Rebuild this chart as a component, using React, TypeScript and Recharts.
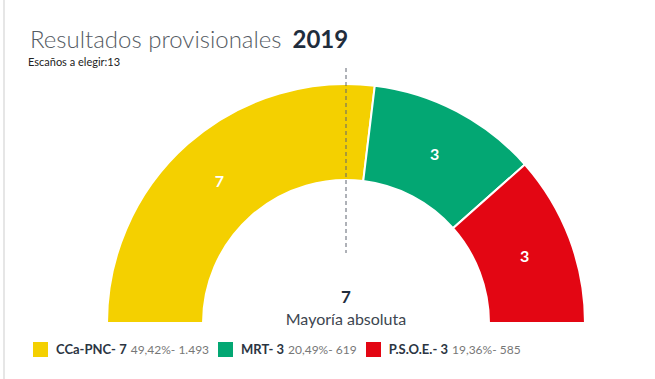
import React from "react";
import { PieChart, Pie, Cell, Legend } from "recharts";

const PARTIES = ["CCa-PNC", "MRT", "P.S.O.E."];
const SEATS = [7, 3, 3];
const PERCENTS = ["49,42%", "20,49%", "19,36%"];
const VOTES = ["1.493", "619", "585"];
const COLORS = ["#f4d000", "#03a773", "#e30613"];

const TOTAL_SEATS = 13;
const MAJORITY = 7;

const data = PARTIES.map((name, i) => ({
  name,
  seats: SEATS[i],
  pct: PERCENTS[i],
  votes: VOTES[i],
}));

const RADIAN = Math.PI / 180;

const renderLabel = (props: any) => {
  const { cx, cy, midAngle, innerRadius, outerRadius, value } = props;
  const r = (innerRadius + outerRadius) / 2;
  const x = cx + r * Math.cos(-midAngle * RADIAN);
  const y = cy + r * Math.sin(-midAngle * RADIAN);
  return (
    <text
      x={x}
      y={y}
      fill="#fff"
      textAnchor="middle"
      dominantBaseline="central"
      fontSize={16}
      fontWeight={700}
      fontFamily="Lato, sans-serif"
    >
      {value}
    </text>
  );
};

const LegendContent = () => (
  <div style={{ display: "flex", alignItems: "center", fontFamily: "Lato, sans-serif", whiteSpace: "nowrap" }}>
    {data.map((d, i) => (
      <div key={d.name} style={{ display: "flex", alignItems: "center", marginRight: 9 }}>
        <span
          style={{
            display: "inline-block",
            width: 15,
            height: 15,
            background: COLORS[i],
            marginRight: 8,
          }}
        />
        <span style={{ fontSize: 13, fontWeight: 700, color: "#2b3542" }}>
          {d.name}- {d.seats}
        </span>
        <span style={{ fontSize: 12, color: "#777", marginLeft: 4 }}>
          {d.pct}- {d.votes}
        </span>
      </div>
    ))}
  </div>
);

export default function App() {
  return (
    <div
      style={{
        position: "absolute",
        left: 0,
        top: 0,
        width: 655,
        height: 379,
        background: "#fff",
        fontFamily: "Lato, sans-serif",
        overflow: "hidden",
      }}
    >
      <div style={{ position: "absolute", left: 3, top: 0, width: 2, height: 379, background: "#e6e6e6" }} />
      <PieChart width={655} height={379} margin={{ top: 0, right: 0, bottom: 0, left: 0 }}>
        <Pie
          data={data}
          dataKey="seats"
          nameKey="name"
          cx={346}
          cy={323}
          startAngle={180}
          endAngle={0}
          innerRadius={143}
          outerRadius={239}
          stroke="#fff"
          strokeWidth={2}
          label={renderLabel}
          labelLine={false}
          isAnimationActive={false}
        >
          {data.map((d, i) => (
            <Cell key={d.name} fill={COLORS[i]} />
          ))}
        </Pie>
        <Legend
          content={<LegendContent />}
          wrapperStyle={{ position: "absolute", left: 33, top: 341, width: "auto" }}
        />
      </PieChart>
      <svg
        width={655}
        height={379}
        style={{ position: "absolute", left: 0, top: 0, pointerEvents: "none" }}
      >
        <line x1={346} y1={68} x2={346} y2={253} stroke="#5f6470" strokeWidth={1} strokeDasharray="4 3" />
        <text x={30} y={48} fontSize={24} fontWeight={300} fill="#555b63" fontFamily="Lato, sans-serif">
          Resultados provisionales
          <tspan dx={11} fontWeight={700} fill="#1f2d3d">2019</tspan>
        </text>
        <text x={28} y={66} fontSize={11} fill="#222" fontFamily="Lato, sans-serif">
          Escaños a elegir:{TOTAL_SEATS}
        </text>
        <text x={346} y={303} textAnchor="middle" fontSize={17} fontWeight={700} fill="#1f2d3d" fontFamily="Lato, sans-serif">
          {MAJORITY}
        </text>
        <text x={346} y={325} textAnchor="middle" fontSize={16} fill="#3d4650" fontFamily="Lato, sans-serif">
          Mayoría absoluta
        </text>
      </svg>
    </div>
  );
}
